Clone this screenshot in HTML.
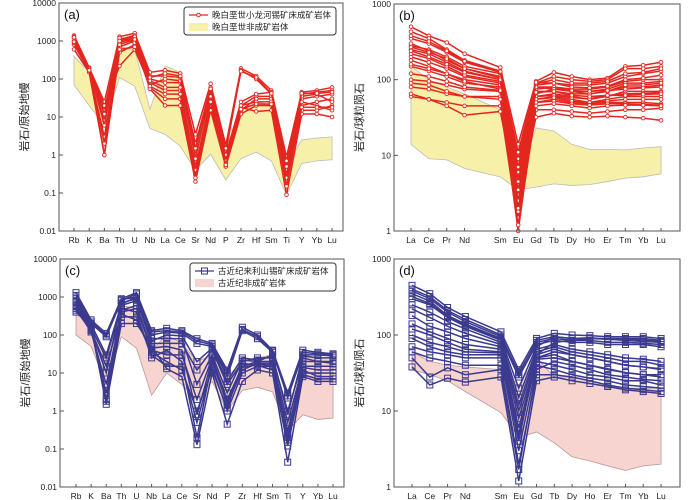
<!DOCTYPE html>
<html><head><meta charset="utf-8"><style>
html,body{margin:0;padding:0;background:#fff;}
svg{display:block;font-family:"Liberation Sans","Noto Sans CJK SC",sans-serif;}
</style></head><body>
<svg id="chart" width="700" height="500" viewBox="0 0 700 500"></svg>
<script>
const spiderCats=["Rb","K","Ba","Th","U","Nb","La","Ce","Sr","Nd","P","Zr","Hf","Sm","Ti","Y","Yb","Lu"];
const reeCats=["La","Ce","Pr","Nd","Sm","Eu","Gd","Tb","Dy","Ho","Er","Tm","Yb","Lu"];
const reeIdx=[0,1,2,3,5,6,7,8,9,10,11,12,13,14];
const spiderTicks=["10000","1000","100","10","1","0.1","0.01"];
const reeTicks=["1000","100","10","1"];

const aSeries=[
[1400,200,25,1300,1600,150,170,140,3.5,75,1.8,190,120,50,0.9,45,50,60],
[1200,180,15,1100,1400,120,120,110,2,60,1.2,170,100,40,0.6,40,45,50],
[1000,170,8,900,1200,100,80,80,1,40,0.8,20,35,35,0.4,30,35,40],
[800,160,3,700,1000,80,50,50,0.5,30,0.6,15,30,30,0.3,20,25,30],
[600,150,1,500,800,60,30,30,0.3,20,0.5,12,20,20,0.2,15,15,20],
[1300,190,1,1200,900,55,20,20,0.2,15,0.5,18,14,15,0.09,12,12,10],
[1100,175,20,220,600,70,100,90,0.8,50,1,25,40,45,0.5,35,40,25],
[900,165,12,1000,1300,90,60,60,0.4,35,0.7,20,25,25,0.25,25,20,15],
[1250,185,6,800,1100,110,140,120,1.5,55,1.5,160,110,42,0.7,42,42,45],
[950,170,2,600,700,65,40,40,0.25,25,0.55,16,22,22,0.15,18,18,18]];
const aUpper=[400,150,10,700,600,16,220,150,1.5,40,1.5,15,25,20,0.5,2.5,2.8,3];
const aLower=[70,20,6,110,65,5,3.5,1.7,0.4,1.05,0.22,0.8,1.2,0.7,0.09,0.6,0.7,0.75];

const bSeries=[
[500,380,310,220,145,14,95,125,110,100,105,150,155,170],
[430,350,250,180,130,10,90,110,100,95,100,140,140,150],
[280,250,200,150,120,8,85,90,85,85,90,110,120,130],
[250,220,170,130,100,5,80,80,75,75,80,95,100,100],
[200,170,140,110,90,3,70,70,65,65,70,80,80,85],
[150,130,110,90,80,2,60,65,60,55,60,70,70,70],
[100,95,85,75,70,1.5,55,60,55,50,55,60,60,60],
[80,75,65,60,60,1,50,55,50,48,50,50,50,48],
[60,55,50,45,45,1.2,40,40,38,36,38,40,40,42],
[65,55,45,34,38,2.5,32,36,33,32,33,32,31,29],
[180,150,120,100,85,4,65,75,70,70,75,90,90,95],
[300,240,180,140,110,6,75,80,70,65,70,85,85,90],
[350,300,230,170,125,9,88,100,90,90,95,120,125,140],
[220,190,150,115,95,2.5,60,62,58,56,62,65,66,68],
[270,230,190,140,105,7,80,75,72,70,72,75,78,80],
[160,140,120,95,75,3.5,55,58,52,50,52,55,55,55],
[120,110,95,80,72,1.8,50,52,48,46,48,48,47,46],
[240,200,160,125,100,4.5,68,70,62,60,62,62,64,65],
[90,85,70,60,55,2,45,48,45,42,45,46,46,45],
[380,320,240,175,128,11,92,90,80,78,82,100,105,115]];
const bUpper=[150,100,80,65,40,5,23,21,14,12,12,11.8,12.5,13];
const bLower=[14,9,8.7,6.7,5.2,3.5,3.8,4.2,4,4.1,4.5,5,5.2,5.7];

const cSeries=[
[1300,250,110,900,1300,130,150,130,80,60,12,160,100,40,3,40,35,32],
[1000,200,90,800,1200,100,120,110,60,50,8,130,80,35,2.5,30,30,28],
[700,150,25,600,800,60,60,60,12,40,5,20,25,25,1,20,20,20],
[500,120,5,400,500,40,30,30,2,25,2,15,20,20,0.5,15,15,15],
[400,180,2,300,300,30,15,15,0.5,15,1,10,15,15,0.2,10,10,10],
[900,160,1.5,200,200,50,13,8,0.13,10,0.45,6,12,10,0.045,8,6,6],
[600,140,10,700,900,80,80,80,5,30,3,22,20,30,0.15,25,20,18],
[800,170,1.8,500,400,25,40,20,0.2,20,1.5,12,18,18,0.3,12,8,8],
[1100,220,100,850,1000,120,130,120,70,55,10,140,90,38,2.2,35,32,30],
[450,130,15,350,250,35,20,12,1,12,1.2,18,16,12,0.12,9,7,7],
[750,190,30,650,1000,70,100,95,20,45,6,25,22,28,0.8,28,25,25],
[550,150,3,450,600,45,50,40,0.8,22,1.8,14,17,16,0.25,14,12,12]];
const cUpper=[350,200,20,600,500,40,100,60,20,30,8,20,25,30,0.8,30,25,25];
const cLower=[100,50,5,90,45,2.6,10,5,2,6,1,3.5,4.2,3.2,0.3,0.8,0.6,0.65];

const dSeries=[
[450,350,230,175,110,35,90,105,100,98,95,95,95,90],
[400,320,210,160,100,30,85,95,90,90,90,90,90,85],
[350,280,180,140,90,28,75,85,80,80,75,75,75,70],
[250,200,150,120,80,12,60,70,60,55,50,45,45,40],
[180,130,110,90,70,8,50,55,45,40,35,32,30,30],
[120,100,80,65,60,5,45,40,35,30,28,25,25,22],
[70,60,55,50,50,3,40,35,30,27,25,22,21,20],
[60,50,45,40,40,2,30,30,28,25,22,20,19,18],
[38,22,27,24,28,1.2,25,28,25,23,21,19,18,17],
[50,28,37,30,35,1.7,35,45,40,35,30,28,26,25],
[90,70,60,55,55,4,55,80,85,90,88,85,82,80],
[300,250,170,130,85,15,65,75,65,60,55,50,48,45],
[140,110,90,75,65,6,50,60,55,50,45,40,38,35],
[380,300,200,150,95,32,80,90,85,85,80,80,78,75],
[220,170,130,105,75,10,55,65,55,50,45,40,38,36],
[100,80,70,60,58,4.5,48,50,45,40,36,32,30,28],
[320,260,175,135,88,20,70,95,90,92,88,88,86,82]];
const dUpper=[60,45,40,38,35,22,50,28,28,25,22,20,20,20];
const dLower=[35,30,25,18,9.5,4.5,5.3,3.8,2.5,2.2,1.9,1.65,1.9,2];

const NS="http://www.w3.org/2000/svg";
const svg=document.getElementById('chart');
function mk(tag,attrs,parent){const e=document.createElementNS(NS,tag);for(const k in attrs)e.setAttribute(k,attrs[k]);(parent||svg).appendChild(e);return e;}

function panel(cfg){
  const g=mk('g',{});
  
  
  const ld0=Math.log10(cfg.min),ld1=Math.log10(cfg.max);
  const y=v=>cfg.bottom-(Math.log10(v)-ld0)/(ld1-ld0)*(cfg.bottom-cfg.top);
  const x=i=>cfg.first+cfg.pos[i]*cfg.step;
  let pts=[];
  cfg.upper.forEach((v,i)=>pts.push(x(i)+','+y(v)));
  for(let i=cfg.lower.length-1;i>=0;i--)pts.push(x(i)+','+y(cfg.lower[i]));
  const env=mk('polygon',{points:pts.join(' '),fill:cfg.envFill,stroke:cfg.envStroke,'stroke-width':0.8},g);
  
  
  cfg.series.forEach((s,si)=>{
    const sg=mk('g',{},g);
    
    
    mk('polyline',{points:s.map((v,i)=>x(i)+','+y(v)).join(' '),fill:'none',stroke:cfg.color,'stroke-width':1.5},sg);
    s.forEach((v,i)=>{
      if(cfg.marker==='circle')mk('circle',{cx:x(i),cy:y(v),r:1.8,fill:'#fff',stroke:cfg.color,'stroke-width':0.9},sg);
      else mk('rect',{x:x(i)-3,y:y(v)-3,width:6,height:6,fill:'none',stroke:cfg.color,'stroke-width':1},sg);
    });
  });
  const fr=mk('rect',{x:cfg.x0,y:cfg.top,width:cfg.x1-cfg.x0,height:cfg.bottom-cfg.top,fill:'none',stroke:'#555','stroke-width':1},g);
  
  
  cfg.ticks.forEach((t,i)=>{
    const ty=y(parseFloat(t));
    mk('line',{x1:cfg.x0,x2:cfg.x0+4,y1:ty,y2:ty,stroke:'#555','stroke-width':1},g);
    const tl=mk('text',{x:cfg.x0-3,y:ty+3,'text-anchor':'end','font-size':8.5,fill:'#222'},g);
    tl.textContent=t;
    
    
  });
  cfg.cats.forEach((c,i)=>{
    mk('line',{x1:x(i),x2:x(i),y1:cfg.bottom,y2:cfg.bottom-3,stroke:'#555','stroke-width':1},g);
    const cl=mk('text',{x:x(i),y:cfg.bottom+12,'text-anchor':'middle','font-size':8.5,fill:'#222'},g);
    cl.textContent=c;
    
    
  });
  const yl=mk('text',{x:0,y:0,transform:`translate(${cfg.x0-31},${(cfg.top+cfg.bottom)/2}) rotate(-90)`,'text-anchor':'middle','font-size':11,fill:'#222'},g);
  yl.textContent=cfg.ylabel;
  
  
  const pl=mk('text',{x:cfg.x0+5,y:cfg.top+16,'font-size':13,fill:'#111'},g);
  pl.textContent=cfg.label;
  
  
}
const sp=spiderCats.map((c,i)=>i);
panel({name:'panel-a',x0:59,x1:343,top:3,bottom:231,min:0.01,max:10000,first:74,step:15.18,pos:sp,cats:spiderCats,ticks:spiderTicks,series:aSeries,upper:aUpper,lower:aLower,color:'#e3261f',marker:'circle',envFill:'#f7f0a8',envStroke:'#bbb',ylabel:'岩石/原始地幔',label:'(a)'});
panel({name:'panel-b',x0:394,x1:680,top:4,bottom:231,min:1,max:1000,first:411,step:17.86,pos:reeIdx,cats:reeCats,ticks:reeTicks,series:bSeries,upper:bUpper,lower:bLower,color:'#e3261f',marker:'circle',envFill:'#f7f0a8',envStroke:'#bbb',ylabel:'岩石/球粒陨石',label:'(b)'});
panel({name:'panel-c',x0:60,x1:344,top:259,bottom:487,min:0.01,max:10000,first:76,step:15.12,pos:sp,cats:spiderCats,ticks:spiderTicks,series:cSeries,upper:cUpper,lower:cLower,color:'#3b3a8e',marker:'square',envFill:'#f7d4d0',envStroke:'#b99',ylabel:'岩石/原始地幔',label:'(c)'});
panel({name:'panel-d',x0:394,x1:680,top:259,bottom:487,min:1,max:1000,first:412,step:17.79,pos:reeIdx,cats:reeCats,ticks:reeTicks,series:dSeries,upper:dUpper,lower:dLower,color:'#3b3a8e',marker:'square',envFill:'#f7d4d0',envStroke:'#b99',ylabel:'岩石/球粒陨石',label:'(d)'});

function legend(name,x,y,w,color,marker,fill,t1,t2){
  const g=mk('g',{});
  
  
  mk('rect',{x:x,y:y,width:w,height:28,rx:3,fill:'#fff',stroke:'#333','stroke-width':1},g);
  mk('line',{x1:x+5,x2:x+24,y1:y+8,y2:y+8,stroke:color,'stroke-width':1.3},g);
  if(marker==='circle')mk('circle',{cx:x+14.5,cy:y+8,r:1.8,fill:'#fff',stroke:color},g);
  else mk('rect',{x:x+11.5,y:y+5,width:6,height:6,fill:'none',stroke:color},g);
  mk('rect',{x:x+5,y:y+16,width:19,height:8,fill:fill},g);
  const a=mk('text',{x:x+28,y:y+11,'font-size':8.5,fill:'#222'},g);a.textContent=t1;
  
  
  const b=mk('text',{x:x+28,y:y+23,'font-size':8.5,fill:'#222'},g);b.textContent=t2;
  
  
}
legend('legend-a',184,7,152,'#e3261f','circle','#f7f0a8','晚白垩世小龙河锡矿床成矿岩体','晚白垩世非成矿岩体');
legend('legend-c',190,263,146,'#3b3a8e','square','#f7d4d0','古近纪来利山锡矿床成矿岩体','古近纪非成矿岩体');
</script>
</body></html>
